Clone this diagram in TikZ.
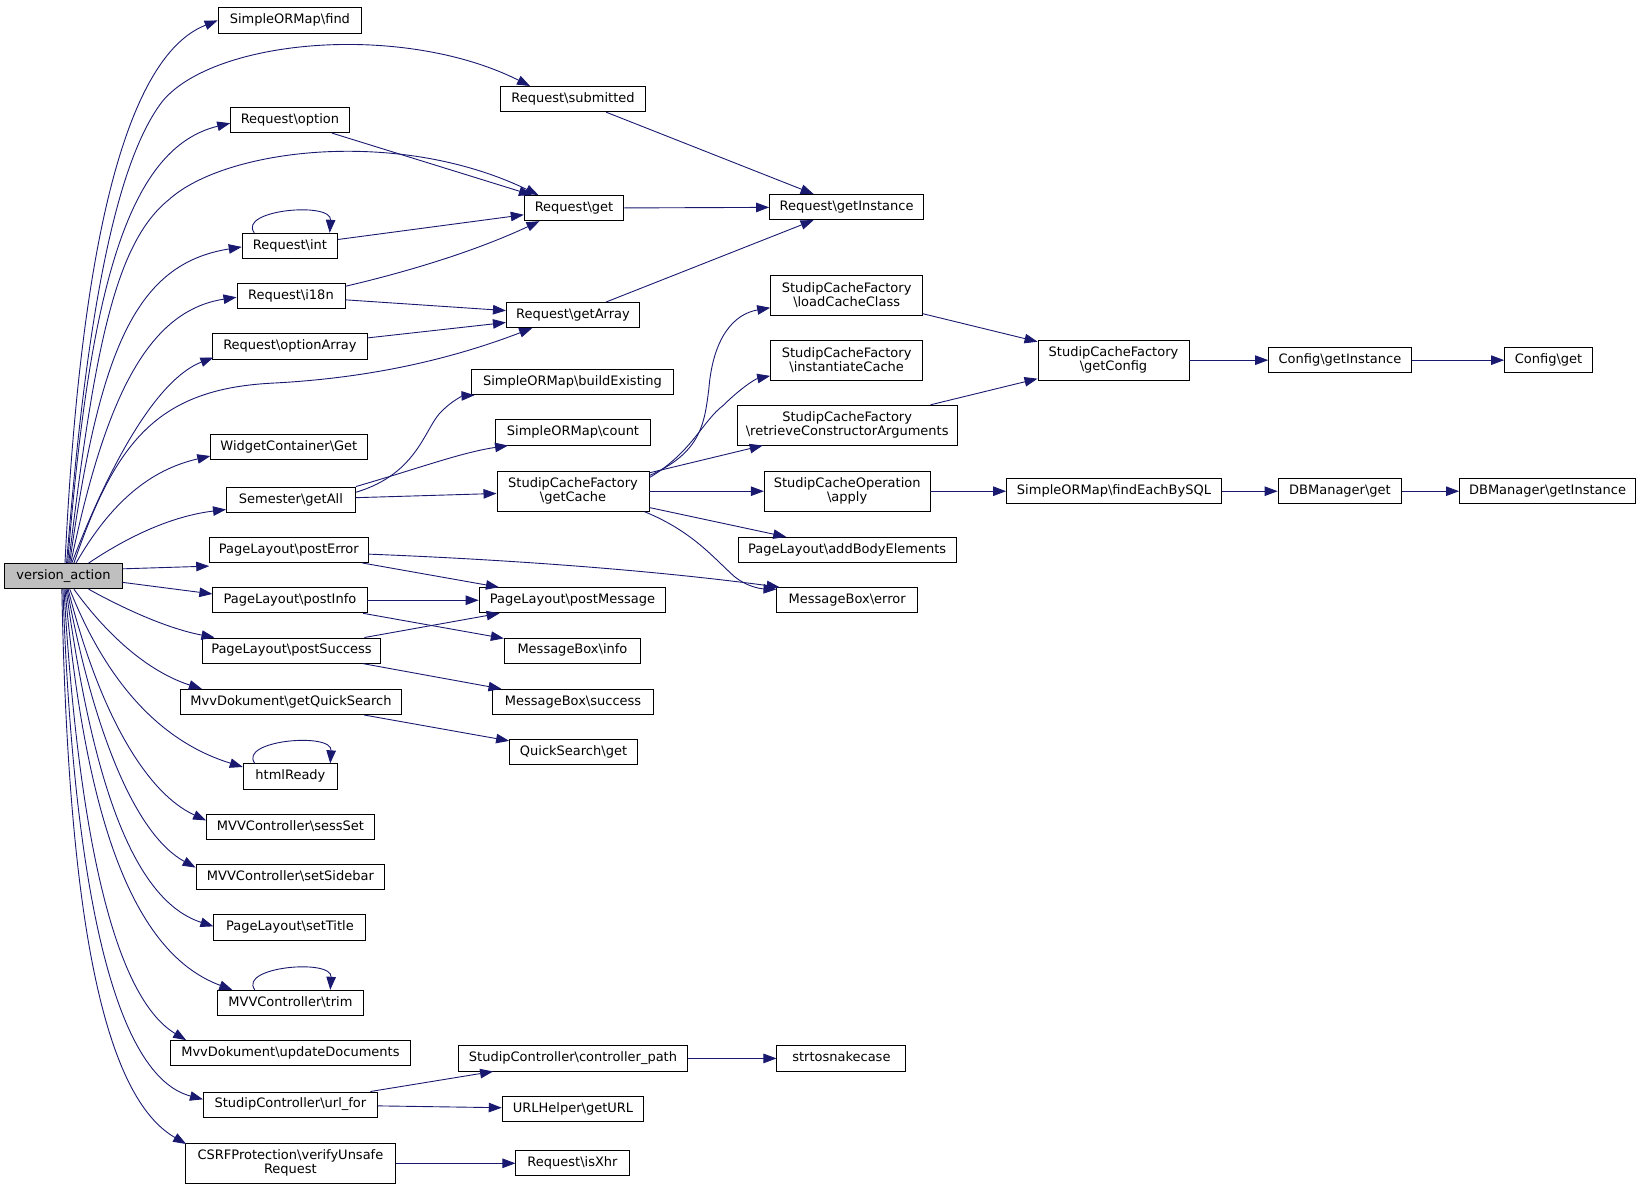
\documentclass[tikz,border=0pt]{standalone}
\usepackage{fontspec}
\setmainfont{DejaVu Sans}
\usetikzlibrary{arrows.meta,calc}
\definecolor{edgec}{RGB}{25,25,112}
\definecolor{vafill}{RGB}{191,191,191}
\tikzset{
 nb/.style={draw=black, line width=0.9pt, fill=white, inner xsep=2pt, inner ysep=0pt, font=\fontsize{13}{14.2}\selectfont, anchor=center},
 b1/.style={nb, minimum height=25.2pt, text height=9.7pt, text depth=2.9pt, minimum width=#1*1.0485pt},
 b2/.style={nb, minimum height=39.8pt, align=center, minimum width=#1*1.0485pt},
 edg/.style={color=edgec, line width=0.9pt, -{Triangle[length=13pt,width=9.5pt]}},
}
\newcommand{\bs}{\textbackslash}
\begin{document}
\begin{tikzpicture}[x=1.0485pt,y=-1.0485pt]
\useasboundingbox (0,-1.5) rectangle (1568,1132.5);
% column 1
\node[b1=113, fill=vafill] (va) at (60.5,548) {version\_action};
% column 2
\node[b1=137] (find) at (276.5,18) {SimpleORMap\bs find};
\node[b1=113] (opt) at (276.5,113) {Request\bs option};
\node[b1=91] (int) at (276.5,233) {Request\bs int};
\node[b1=103] (i18n) at (277.5,281) {Request\bs i18n};
\node[b1=147] (oa) at (276.5,329) {Request\bs optionArray};
\node[b1=149] (wc) at (275.5,425) {WidgetContainer\bs Get};
\node[b1=123] (sga) at (277.5,475) {Semester\bs getAll};
\node[b1=151] (pe) at (275.5,523) {PageLayout\bs postError};
\node[b1=147] (pi) at (276.5,571) {PageLayout\bs postInfo};
\node[b1=170] (ps) at (278,619) {PageLayout\bs postSuccess};
\node[b1=211] (gqs) at (277.5,668) {MvvDokument\bs getQuickSearch};
\node[b1=90] (hr) at (277,739) {htmlReady};
\node[b1=160] (ss) at (277,787) {MVVController\bs sessSet};
\node[b1=180] (sb) at (277,835) {MVVController\bs setSidebar};
\node[b1=145] (st) at (276.5,883) {PageLayout\bs setTitle};
\node[b1=140] (tr) at (277,955) {MVVController\bs trim};
\node[b1=228] (ud) at (277,1003) {MvvDokument\bs updateDocuments};
\node[b1=166] (uf) at (277,1052) {StudipController\bs url\_for};
\node[b2=200] (vr) at (277,1108) {CSRFProtection\bs verifyUnsafe\\Request};
% column 3
\node[b1=139] (sub) at (546.5,93) {Request\bs submitted};
\node[b1=95] (get) at (547.5,197) {Request\bs get};
\node[b1=127] (ga) at (546.5,299) {Request\bs getArray};
\node[b1=192] (be) at (546,363) {SimpleORMap\bs buildExisting};
\node[b1=147] (cnt) at (546.5,411) {SimpleORMap\bs count};
\node[b2=145] (gc) at (546.5,467) {StudipCacheFactory\\\bs getCache};
\node[b1=178] (pm) at (546,571) {PageLayout\bs postMessage};
\node[b1=130] (mbi) at (546,619) {MessageBox\bs info};
\node[b1=153] (mbs) at (546.5,668) {MessageBox\bs success};
\node[b1=122] (qsg) at (547,716) {QuickSearch\bs get};
\node[b1=219] (cp) at (546.5,1008) {StudipController\bs controller\_path};
\node[b1=135] (url) at (546.5,1056) {URLHelper\bs getURL};
\node[b1=108] (xhr) at (546,1108) {Request\bs isXhr};
% column 4
\node[b1=147] (gi) at (807.5,196) {Request\bs getInstance};
\node[b2=145] (lcc) at (807.5,280) {StudipCacheFactory\\\bs loadCacheClass};
\node[b2=145] (ic) at (807.5,342) {StudipCacheFactory\\\bs instantiateCache};
\node[b2=210] (rca) at (808,404) {StudipCacheFactory\\\bs retrieveConstructorArguments};
\node[b2=158] (app) at (808,467) {StudipCacheOperation\\\bs apply};
\node[b1=208] (abe) at (808,523) {PageLayout\bs addBodyElements};
\node[b1=134] (mbe) at (808,571) {MessageBox\bs error};
\node[b1=123] (sn) at (802.5,1008) {strtosnakecase};
% column 5+
\node[b2=144] (gcf) at (1062,342) {StudipCacheFactory\\\bs getConfig};
\node[b1=136] (cgi) at (1278,342) {Config\bs getInstance};
\node[b1=84] (cg) at (1477,342) {Config\bs get};
\node[b1=205] (febs) at (1062.5,467) {SimpleORMap\bs findEachBySQL};
\node[b1=118] (dbg) at (1278,467) {DBManager\bs get};
\node[b1=168] (dbgi) at (1476,467) {DBManager\bs getInstance};

% edges from version_action (upwards)
\draw[edg] ($(va.north)+(1.5,0)$) .. controls (72,330) and (100,60) .. (find.west);
\draw[edg] ($(va.north)+(3,0)$) .. controls (80,330) and (105,160) .. (155,95) .. controls (205,35) and (385,20) .. ($(sub.north west)+(29,0)$);
\draw[edg] ($(va.north)+(4,0)$) .. controls (85,280) and (120,140) .. ($(opt.west)+(0,3)$);
\draw[edg] ($(va.north)+(5,0)$) .. controls (90,330) and (110,230) .. (161,189) .. controls (215,140) and (380,120) .. ($(get.north west)+(14,0)$);
\draw[edg] ($(va.north)+(6,0)$) .. controls (95,330) and (130,250) .. ($(int.west)+(0,1)$);
\draw[edg] ($(va.north)+(7,0)$) .. controls (100,380) and (140,295) .. ($(i18n.west)+(0,1)$);
\draw[edg] ($(va.north)+(8,0)$) .. controls (105,440) and (150,360) .. ($(oa.south west)+(1,-2)$);
\draw[edg] ($(va.north)+(10,0)$) .. controls (110,420) and (150,370) .. (258,364) .. controls (340,360) and (420,345) .. ($(ga.south west)+(25,0)$);
\draw[edg] ($(va.north)+(12,0)$) .. controls (110,470) and (150,445) .. ($(wc.south west)+(0,-4)$);
\draw[edg] ($(va.north)+(24,0)$) .. controls (130,505) and (170,490) .. ($(sga.south west)+(0,-3)$);
\draw[edg] ($(va.east)+(0,-7)$) -- ($(pe.south west)+(0,3)$);
\draw[edg] ($(va.east)+(0,6)$) -- ($(pi.west)+(0,-6)$);
% edges from version_action (downwards)
\draw[edg] ($(va.south)+(24,0)$) .. controls (120,580) and (160,598) .. ($(ps.north west)+(12,0)$);
\draw[edg] ($(va.south)+(10,0)$) .. controls (110,615) and (150,642) .. ($(gqs.north west)+(21,0)$);
\draw[edg] ($(va.south)+(6,0)$) .. controls (100,645) and (150,705) .. ($(hr.west)+(0,-9)$);
\draw[edg] ($(va.south)+(4.5,0)$) .. controls (95,680) and (140,755) .. ($(ss.west)+(0,-6)$);
\draw[edg] ($(va.south)+(3.5,0)$) .. controls (90,700) and (130,795) .. ($(sb.west)+(0,-9)$);
\draw[edg] ($(va.south)+(2.5,0)$) .. controls (85,720) and (120,855) .. ($(st.west)+(0,-1)$);
\draw[edg] ($(va.south)+(1.5,0)$) .. controls (80,760) and (120,905) .. ($(tr.north west)+(15,0)$);
\draw[edg] ($(va.south)+(0.5,0)$) .. controls (75,800) and (110,950) .. ($(ud.north west)+(15,0)$);
\draw[edg] ($(va.south)+(-0.5,0)$) .. controls (70,850) and (110,1025) .. ($(uf.west)+(0,-5)$);
\draw[edg] ($(va.south)+(-1.5,0)$) .. controls (65,880) and (100,1045) .. ($(vr.north west)+(1,1)$);

% self loops
\foreach \n in {int,hr,tr}{
  \draw[edg] ($(\n.north)+(-34,0)$) .. controls ($(\n.north)+(-50,-22)$) and ($(\n.north)+(40,-30)$) .. ($(\n.north)+(38,0)$);
}

% Request edges
\draw[edg] (sub) -- (gi);
\draw[edg] (opt) -- (get);
\draw[edg] (get) -- (gi);
\draw[edg] (int) -- (get);
\draw[edg] ($(i18n.north east)+(0,3)$) .. controls (400,255) and (460,235) .. ($(get.south west)+(15,0)$);
\draw[edg] (i18n) -- (ga);
\draw[edg] (oa) -- (ga);
\draw[edg] (ga) -- (gi);

% Semester / cache
\draw[edg] ($(sga.east)+(0,-7)$) .. controls (400,450) and (405,405) .. (422,390) .. controls (432,380) and (442,376) .. ($(be.south west)+(3,0)$);
\draw[edg] ($(sga.north east)+(0,0)$) .. controls (400,445) and (440,430) .. ($(cnt.south west)+(12,0)$);
\draw[edg] (sga) -- (gc);
\draw[edg] ($(gc.east)+(0,-15)$) .. controls (670,430) and (672,400) .. (676,370) .. controls (680,320) and (700,298) .. ($(lcc.west)+(0,12)$);
\draw[edg] ($(gc.east)+(0,-13)$) .. controls (660,430) and (670,400) .. (690,385) .. controls (705,370) and (720,360) .. ($(ic.west)+(0,15)$);
\draw[edg] (gc) -- (rca);
\draw[edg] (gc) -- (app);
\draw[edg] (gc) -- (abe);
\draw[edg] ($(gc.south east)+(-5,0)$) .. controls (660,505) and (680,530) .. (700,548) .. controls (712,558) and (725,560) .. ($(mbe.north west)+(0,2)$);
\draw[edg] (lcc) -- (gcf);
\draw[edg] (rca) -- (gcf);
\draw[edg] (gcf) -- (cgi);
\draw[edg] (cgi) -- (cg);
\draw[edg] (app) -- (febs);
\draw[edg] (febs) -- (dbg);
\draw[edg] (dbg) -- (dbgi);

% PageLayout
\draw[edg] (pe) -- (pm);
\draw[edg] ($(pe.east)+(0,4)$) .. controls (480,532) and (620,542) .. ($(mbe.north west)+(3,0)$);
\draw[edg] (pi) -- (pm);
\draw[edg] (pi) -- (mbi);
\draw[edg] (ps) -- (pm);
\draw[edg] (ps) -- (mbs);
\draw[edg] (gqs) -- (qsg);

% controllers
\draw[edg] (uf) -- (cp);
\draw[edg] (uf) -- (url);
\draw[edg] (cp) -- (sn);
\draw[edg] (vr) -- (xhr);
\end{tikzpicture}
\end{document}
